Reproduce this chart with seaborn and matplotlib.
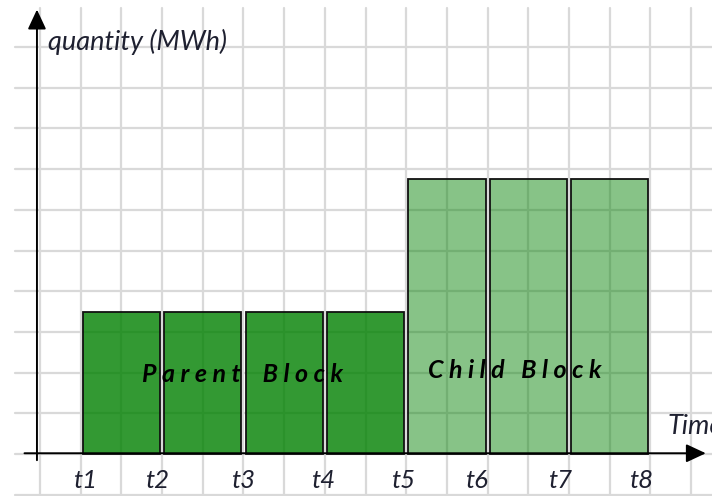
import matplotlib
matplotlib.use("Agg")
import matplotlib.pyplot as plt
import numpy as np
import pandas as pd
import seaborn as sns

# time slots, delivered quantity and block type for each slot
slots = ["t1-t2", "t2-t3", "t3-t4", "t4-t5", "t5-t6", "t6-t7", "t7-t8"]
quantity = [3.5, 3.5, 3.5, 3.5, 6.75, 6.75, 6.75]
block = ["Parent", "Parent", "Parent", "Parent", "Child", "Child", "Child"]
time_labels = ["t1", "t2", "t3", "t4", "t5", "t6", "t7", "t8"]

df = pd.DataFrame({"slot": slots, "quantity": quantity, "block": block})

green = (0.0, 0.5, 0.0)
block_alpha = {"Parent": 0.8, "Child": 0.47}

sns.set_style("white")
plt.rcParams["font.family"] = ["Lato", "DejaVu Sans"]

fig = plt.figure(figsize=(7.12, 4.96), dpi=100)
ax = fig.add_axes([0, 0, 1, 1])

# background grid (one x unit = two grid cells)
grid_c = "#d9d9d9"
for gx in np.arange(-1.0, 7.3, 0.5):
    ax.plot([gx, gx], [-1.1, 10.95], color=grid_c, lw=1.6, zorder=0)
for gy in np.arange(-1.0, 10.5, 1.0):
    ax.plot([-1.31, 7.3], [gy, gy], color=grid_c, lw=1.6, zorder=0)

sns.barplot(data=df, x="slot", y="quantity", hue="block", palette={"Parent": green, "Child": green},
            width=0.95, edgecolor="#111111", linewidth=1.3, legend=False, ax=ax, zorder=2)
# transparency per block, so the grid shows through the bars
bars = sorted(ax.patches, key=lambda p: p.get_x())
for patch, b in zip(bars, block):
    patch.set_facecolor((*green, block_alpha[b]))

ax.set_xlim(-1.491, 7.256)
ax.set_ylim(-1.03, 11.155)
ax.axis("off")

# axes with arrows
arrow = dict(arrowstyle="-|>,head_length=0.6,head_width=0.28", mutation_scale=20, lw=1.4, color="black",
             shrinkA=0, shrinkB=0)
ax.annotate("", xy=(-1.037, 10.92), xytext=(-1.037, -0.15), arrowprops=arrow, zorder=5)
ax.annotate("", xy=(7.18, 0.02), xytext=(-1.19, 0.02), arrowprops=arrow, zorder=5)

text_c = "#1e2030"
tick_x = [-0.44, 0.44, 1.49, 2.48, 3.46, 4.36, 5.39, 6.38]
for tx, lab in zip(tick_x, time_labels):
    ax.text(tx, -0.64, lab, ha="center", va="center", fontsize=18.5, style="italic", color=text_c)

ax.text(-0.9, 10.12, "quantity (MWh)", ha="left", va="center", fontsize=19.5, style="italic", color=text_c)
ax.text(6.71, 0.68, "Time", ha="left", va="center", fontsize=19.5, style="italic", color=text_c)

ax.text(1.49, 1.95, "P a r e n t    B l o c k", ha="center", va="center", fontsize=18,
        style="italic", weight="bold", color="black", zorder=6)
ax.text(4.83, 2.05, "C h i l d   B l o c k", ha="center", va="center", fontsize=18,
        style="italic", weight="bold", color="black", zorder=6)

fig.savefig("out.png", dpi=100)
